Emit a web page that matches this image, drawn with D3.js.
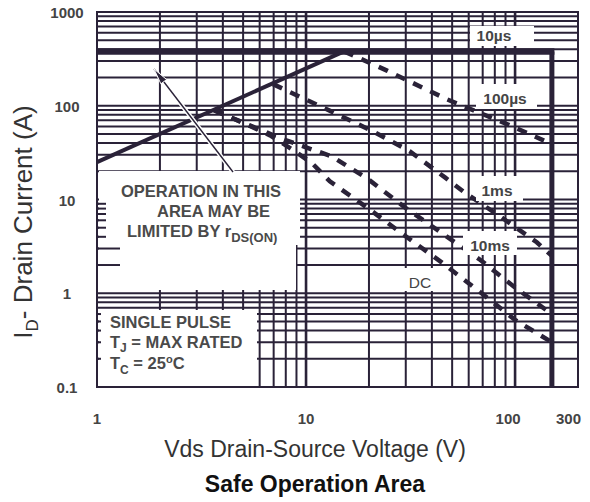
<!DOCTYPE html>
<html>
<head>
<meta charset="utf-8">
<script src="https://cdn.jsdelivr.net/npm/d3@7"></script>
<style>
  body { margin: 0; background: #fff; }
  svg { display: block; font-family: "Liberation Sans", Arial, sans-serif; }
</style>
</head>
<body>
<svg id="chart" width="590" height="502"></svg>
<script>
// ---- axis ranges and tick labels ----
const xDomain = [1, 200];
const yDomain = [0.1, 1000];
const xTickValues = [1, 10, 100];
const xTickLabels = ["1", "10", "100"];
const xEndLabel = "300";
const yTickValues = [0.1, 1, 10, 100, 1000];
const yTickLabels = ["0.1", "1", "10", "100", "1000"];

// ---- limits ----
const rdsV = [1, 15.2];          // on-resistance limit (V)
const rdsI = [25, 380];          // on-resistance limit (A)
const currentLimit = 380;        // A
const voltageLimit = 150;        // V

// ---- pulse / DC boundaries (V, A) ----
const us100V = [15.2, 24.4, 37.9, 47.3, 92.6, 150];
const us100I = [380, 237, 148, 117, 63, 39];
const ms1V = [6.95, 13.5, 20.9, 31.4, 46.2, 56.4, 84.8, 127, 150];
const ms1I = [170, 85, 53.3, 32.6, 17.2, 12.2, 6.6, 3.5, 2.5];
const ms10V = [3.63, 4.83, 7.76, 13.3, 19.6, 29.8, 44.3, 68, 100, 150];
const ms10I = [89.5, 68.2, 43.9, 28.8, 16.8, 8.2, 4.43, 2.28, 1.15, 0.6];
const dcV = [3.63, 4.83, 6.73, 8.57, 10.7, 13.0, 19.6, 28.8, 44.7, 65.8, 100, 150];
const dcI = [89.5, 68.2, 48.3, 34.3, 24.3, 15.6, 8.2, 4.33, 2.12, 1.09, 0.52, 0.3];

const ink = "#2a2238";
const svg = d3.select("#chart");

const plotL = 97, plotR = 578, plotT = 12, plotB = 387;
const x = d3.scaleLog().domain(xDomain).range([plotL, plotR]);
const y = d3.scaleLog().domain(yDomain).range([plotB, plotT]);

// ---- log grid ----
const grid = svg.append("g").attr("stroke", ink);
grid.selectAll("line.v").data(x.ticks().filter(v => v > xDomain[0] && v < xDomain[1]))
  .join("line").attr("class", "v")
  .attr("x1", d => x(d)).attr("x2", d => x(d))
  .attr("y1", plotT).attr("y2", plotB)
  .attr("stroke-width", d => (Math.abs(Math.log10(d) % 1) < 1e-9 ? 2.6 : 2));
grid.selectAll("line.h").data(y.ticks().filter(v => v > yDomain[0] * 1.0001 && v < yDomain[1] * 0.9999))
  .join("line").attr("class", "h")
  .attr("x1", plotL).attr("x2", plotR)
  .attr("y1", d => y(d)).attr("y2", d => y(d))
  .attr("stroke-width", 2);

// ---- boundary curves ----
const zip = (a, b) => a.map((v, i) => [v, b[i]]);
const line = d3.line().x(d => x(d[0])).y(d => y(d[1]));
const dashed = [zip(us100V, us100I), zip(ms1V, ms1I), zip(ms10V, ms10I), zip(dcV, dcI)];
svg.append("g").selectAll("path").data(dashed).join("path")
  .attr("d", line)
  .attr("fill", "none")
  .attr("stroke", ink)
  .attr("stroke-width", 4.5)
  .attr("stroke-dasharray", "10,9");

svg.append("path")
  .attr("d", line(zip(rdsV, rdsI)))
  .attr("fill", "none").attr("stroke", ink).attr("stroke-width", 4);

// ---- white label panels ----
const panels = [
  [99, 171, 201, 74],    // note box, upper part
  [99, 244, 197, 46],    // note box, lower part
  [99, 310, 158, 76],    // test conditions box
  [470, 26, 64, 20],     // 10us
  [476, 84, 61, 25],     // 100us
  [476, 176, 47, 25],    // 1ms
  [463, 231, 54, 24],    // 10ms
  [400, 268, 48, 23]     // DC
];
svg.append("g").selectAll("rect").data(panels).join("rect")
  .attr("x", d => d[0]).attr("y", d => d[1])
  .attr("width", d => d[2]).attr("height", d => d[3])
  .attr("fill", "#fff");

// short grid stubs along the left edge inside the boxes
const stubs = svg.append("g").attr("stroke", ink).attr("stroke-width", 2);
[9, 8, 7, 6, 5, 4].forEach(v => stubs.append("line")
  .attr("x1", plotL).attr("x2", plotL + 9).attr("y1", y(v)).attr("y2", y(v)));
[3, 2].forEach(v => stubs.append("line")
  .attr("x1", plotL).attr("x2", plotL + 23).attr("y1", y(v)).attr("y2", y(v)));
[0.6, 0.5, 0.4, 0.3, 0.2].forEach(v => stubs.append("line")
  .attr("x1", plotL).attr("x2", plotL + 4).attr("y1", y(v)).attr("y2", y(v)));

// ---- current and voltage limits ----
svg.append("line")
  .attr("x1", plotL).attr("x2", x(voltageLimit) + 2.5)
  .attr("y1", y(currentLimit)).attr("y2", y(currentLimit))
  .attr("stroke", ink).attr("stroke-width", 6.5);
svg.append("line")
  .attr("x1", x(voltageLimit)).attr("x2", x(voltageLimit))
  .attr("y1", y(currentLimit)).attr("y2", plotB)
  .attr("stroke", ink).attr("stroke-width", 5);

// ---- plot frame ----
svg.append("rect")
  .attr("x", plotL).attr("y", plotT)
  .attr("width", plotR - plotL).attr("height", plotB - plotT)
  .attr("fill", "none").attr("stroke", ink).attr("stroke-width", 2);

// ---- curve labels ----
const labelColor = "#454545";
const curveLabels = [
  { t: "10\u00b5s", x: 494, y: 41, w: "bold" },
  { t: "100\u00b5s", x: 505, y: 104, w: "bold" },
  { t: "1ms", x: 497, y: 196, w: "bold" },
  { t: "10ms", x: 490, y: 251, w: "bold" },
  { t: "DC", x: 420, y: 288, w: "normal" }
];
svg.append("g").selectAll("text").data(curveLabels).join("text")
  .attr("x", d => d.x).attr("y", d => d.y)
  .attr("text-anchor", "middle")
  .attr("font-size", 15.5)
  .attr("font-weight", d => d.w)
  .attr("fill", labelColor)
  .text(d => d.t);

// ---- note with arrow ----
const arrowTail = [233, 172], arrowTip = [154, 69];
svg.append("line")
  .attr("x1", arrowTail[0]).attr("y1", arrowTail[1])
  .attr("x2", arrowTip[0]).attr("y2", arrowTip[1])
  .attr("stroke", "#fff").attr("stroke-width", 4.5);
svg.append("line")
  .attr("x1", arrowTail[0]).attr("y1", arrowTail[1])
  .attr("x2", arrowTip[0]).attr("y2", arrowTip[1])
  .attr("stroke", ink).attr("stroke-width", 1.4);
{
  const dx = arrowTail[0] - arrowTip[0], dy = arrowTail[1] - arrowTip[1];
  const len = Math.hypot(dx, dy), ux = dx / len, uy = dy / len;
  const hl = 16, hw = 3.6;
  const bx = arrowTip[0] + ux * hl, by = arrowTip[1] + uy * hl;
  svg.append("path")
    .attr("d", `M${arrowTip[0]},${arrowTip[1]}L${bx - uy * hw},${by + ux * hw}L${bx + uy * hw},${by - ux * hw}Z`)
    .attr("fill", ink).attr("stroke", "#fff").attr("stroke-width", 1);
}

const note = svg.append("g")
  .attr("font-size", 16.5).attr("font-weight", "bold").attr("fill", "#4a4a4a");
note.append("text").attr("x", 121).attr("y", 197).text("OPERATION IN THIS");
note.append("text").attr("x", 157).attr("y", 217).text("AREA MAY BE");
const lim = note.append("text").attr("x", 127).attr("y", 237);
lim.append("tspan").text("LIMITED BY r");
lim.append("tspan").attr("dy", 5).attr("font-size", 13).text("DS(ON)");

const cond = svg.append("g")
  .attr("font-size", 16.5).attr("font-weight", "bold").attr("fill", "#4a4a4a");
cond.append("text").attr("x", 110).attr("y", 328).text("SINGLE PULSE");
const tj = cond.append("text").attr("x", 110).attr("y", 348);
tj.append("tspan").text("T");
tj.append("tspan").attr("dy", 4).attr("font-size", 12).text("J");
tj.append("tspan").attr("dy", -4).text(" = MAX RATED");
const tc = cond.append("text").attr("x", 110).attr("y", 369);
tc.append("tspan").text("T");
tc.append("tspan").attr("dy", 5).attr("font-size", 12).text("C");
tc.append("tspan").attr("dy", -5).text(" = 25");
tc.append("tspan").attr("dy", -6).attr("font-size", 11).text("o");
tc.append("tspan").attr("dy", 6).text("C");

// ---- tick labels ----
const tickStyle = sel => sel.attr("font-size", 15).attr("font-weight", "bold").attr("fill", "#444");
svg.append("g").call(tickStyle).selectAll("text").data(yTickValues).join("text")
  .attr("x", 67).attr("y", d => y(d) + 6)
  .attr("text-anchor", "middle")
  .text((d, i) => yTickLabels[i]);
svg.append("g").call(tickStyle).selectAll("text").data(xTickValues).join("text")
  .attr("x", d => x(d) - (d === 100 ? 7 : 0)).attr("y", 424)
  .attr("text-anchor", "middle")
  .text((d, i) => xTickLabels[i]);
svg.append("text").call(tickStyle)
  .attr("x", 581).attr("y", 424).attr("text-anchor", "end").text(xEndLabel);

// ---- axis titles ----
svg.append("text")
  .attr("x", 315).attr("y", 457).attr("text-anchor", "middle")
  .attr("font-size", 23).attr("fill", "#333")
  .text("Vds Drain-Source Voltage (V)");
svg.append("text")
  .attr("x", 315).attr("y", 492).attr("text-anchor", "middle")
  .attr("font-size", 23).attr("font-weight", "bold").attr("fill", "#111")
  .text("Safe Operation Area");
const yt = svg.append("text")
  .attr("transform", "translate(32,222) rotate(-90)")
  .attr("text-anchor", "middle")
  .attr("font-size", 26).attr("fill", "#333");
yt.append("tspan").text("I");
yt.append("tspan").attr("dy", 6).attr("font-size", 17).text("D");
yt.append("tspan").attr("dy", -6).text("- Drain Current (A)");
</script>
</body>
</html>
